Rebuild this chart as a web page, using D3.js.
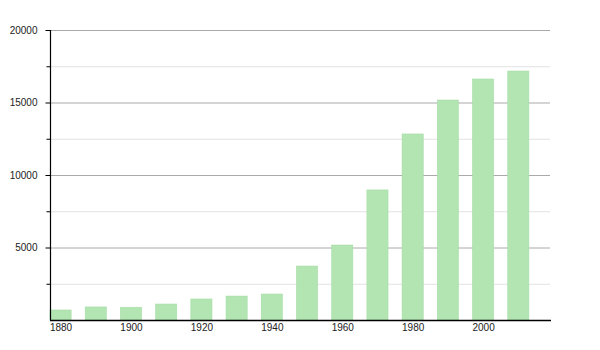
<!DOCTYPE html>
<html>
<head>
<meta charset="utf-8">
<script src="https://cdn.jsdelivr.net/npm/d3@7"></script>
<style>
body { margin: 0; background: #fff; }
svg { font-family: "Liberation Sans", Arial, sans-serif; }
</style>
</head>
<body>
<div id="chart"></div>
<script>
// data
var years = [1880, 1890, 1900, 1910, 1920, 1930, 1940, 1950, 1960, 1970, 1980, 1990, 2000, 2010];
var population = [690, 900, 880, 1100, 1450, 1650, 1790, 3720, 5170, 8970, 12830, 15170, 16620, 17170];
var yearLabels = [1880, 1900, 1920, 1940, 1960, 1980, 2000];
var majorTicks = [5000, 10000, 15000, 20000];
var minorTicks = [2500, 7500, 12500, 17500];

var svg_w = 600, svg_h = 350;
var pad_left = 50, pad_right = 550, pad_top = 30, pad_bottom = 320;

var svg = d3.select("#chart").append("svg")
	.attr("width", svg_w)
	.attr("height", svg_h);

var x = d3.scaleLinear()
	.domain([1877, 2019])
	.range([pad_left, pad_right]);

var y = d3.scaleLinear()
	.domain([0, 20000])
	.range([pad_bottom, pad_top]);

// grid lines
svg.append("g").selectAll("line")
	.data(minorTicks)
	.enter().append("line")
	.attr("x1", pad_left).attr("x2", pad_right)
	.attr("y1", function(d) { return y(d) + 0.5; })
	.attr("y2", function(d) { return y(d) + 0.5; })
	.attr("stroke", "#e2e2e2");

svg.append("g").selectAll("line")
	.data(majorTicks)
	.enter().append("line")
	.attr("x1", pad_left).attr("x2", pad_right)
	.attr("y1", function(d) { return y(d) + 0.5; })
	.attr("y2", function(d) { return y(d) + 0.5; })
	.attr("stroke", "#aaaaaa");

// bars
svg.append("g").selectAll("rect")
	.data(years)
	.enter().append("rect")
	.attr("x", function(d) { return x(d - 3); })
	.attr("width", function(d) { return x(d + 3) - x(d - 3); })
	.attr("y", function(d, i) { return y(population[i]); })
	.attr("height", function(d, i) { return pad_bottom - y(population[i]); })
	.attr("fill", "#b2e5b2")
	.attr("stroke", "#a6dca6")
	.attr("stroke-width", 0.6);

// y axis
var yAxis = d3.axisLeft(y)
	.tickValues(majorTicks)
	.tickFormat(d3.format("d"))
	.tickSize(5)
	.tickPadding(8);

var gy = svg.append("g")
	.attr("transform", "translate(" + (pad_left + 0.5) + ",0)")
	.call(yAxis);
gy.select(".domain").remove();
gy.selectAll(".tick text").attr("font-size", 10).attr("fill", "#222").attr("font-family", null);

gy.selectAll(".minor")
	.data(minorTicks)
	.enter().append("line")
	.attr("x1", -4).attr("x2", 0)
	.attr("y1", function(d) { return y(d) + 0.5; })
	.attr("y2", function(d) { return y(d) + 0.5; })
	.attr("stroke", "#000");

gy.append("line")
	.attr("x1", 0).attr("x2", 0)
	.attr("y1", pad_top).attr("y2", pad_bottom)
	.attr("stroke", "#000")
	.attr("stroke-width", 1.2);

// x axis
var xAxis = d3.axisBottom(x)
	.tickValues(yearLabels)
	.tickFormat(d3.format("d"))
	.tickSize(0)
	.tickPadding(4);

var gx = svg.append("g")
	.attr("transform", "translate(0," + pad_bottom + ")")
	.call(xAxis);
gx.select(".domain").remove();
gx.selectAll(".tick text").attr("font-size", 10).attr("fill", "#222").attr("font-family", null);

gx.append("line")
	.attr("x1", pad_left).attr("x2", pad_right + 1)
	.attr("y1", 0.5).attr("y2", 0.5)
	.attr("stroke", "#000")
	.attr("stroke-width", 1.5);
</script>
</body>
</html>
